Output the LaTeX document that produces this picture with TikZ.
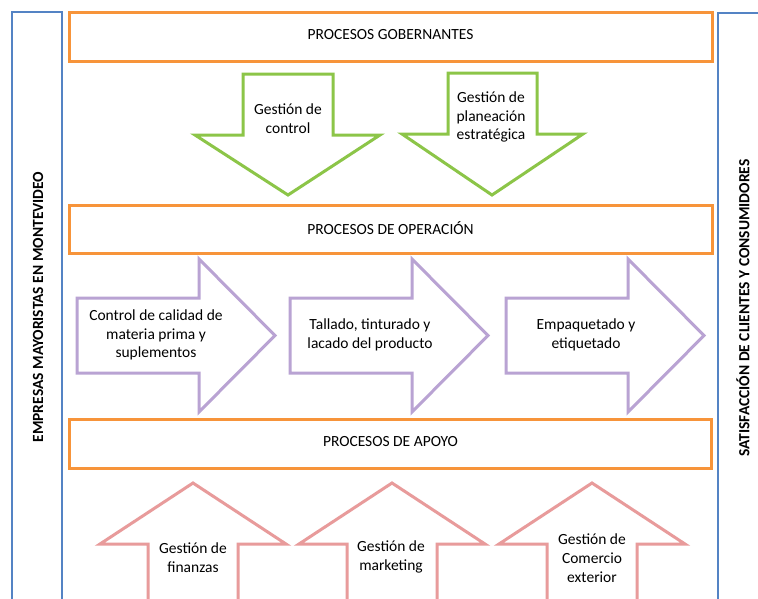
\documentclass[tikz,border=0pt]{standalone}
\usepackage{fontspec}
\setmainfont{Carlito}
\definecolor{boxorange}{HTML}{F7943A}
\definecolor{sideblue}{HTML}{5483C4}
\definecolor{arrgreen}{HTML}{8CC548}
\definecolor{arrpurple}{HTML}{B9A3D3}
\definecolor{arrred}{HTML}{E89B9B}
\tikzset{
  frame/.style={draw=boxorange, line width=3pt},
  side/.style={draw=sideblue, line width=2.8pt},
  garrow/.style={draw=arrgreen, line width=3pt, line join=miter},
  parrow/.style={draw=arrpurple, line width=3pt, line join=miter},
  rarrow/.style={draw=arrred, line width=3pt, line join=miter},
  lbl/.style={font=\fontsize{15.5}{18.7}\selectfont, align=center, inner sep=0pt},
  vlbl/.style={font=\fontsize{15.5}{18}\selectfont\bfseries, rotate=90, inner sep=0pt}
}
\begin{document}
\begin{tikzpicture}[x=1pt,y=-1pt]
\useasboundingbox (0,0) rectangle (758,598);
\clip (0,0) rectangle (758,598);
\fill[white] (0,0) rectangle (758,598);
% side panels
\draw[side] (12,12) rectangle (62,620);
\draw[side] (718,13) rectangle (780,620);
\node[vlbl] (left) at (38,307) {EMPRESAS MAYORISTAS EN MONTEVIDEO};
\node[vlbl] (right) at (743,308) {SATISFACCIÓN DE CLIENTES Y CONSUMIDORES};
% process boxes
\draw[frame] (69,12) rectangle (712,61);
\node[lbl] (gob) at (390.5,35) {PROCESOS GOBERNANTES};
\draw[frame] (69,205) rectangle (712,253);
\node[lbl] (op) at (390.5,228) {PROCESOS DE OPERACIÓN};
\draw[frame] (69,419) rectangle (711,468);
\node[lbl] (apo) at (390.5,442) {PROCESOS DE APOYO};
% green arrows
\draw[garrow] (243,74) -- (333,74) -- (333,135) -- (380,135) -- (288,195) -- (195,135) -- (243,135) -- cycle;
\node[lbl] (g1) at (288,119) {Gestión de\\control};
\draw[garrow] (448,73) -- (537,73) -- (537,134) -- (583,134) -- (492,195) -- (402,134) -- (448,134) -- cycle;
\node[lbl] (g2) at (491,117) {Gestión de\\planeación\\estratégica};
% purple arrows
\foreach \L in {77,290,506}{
  \draw[parrow] (\L,298) -- (\L+122,298) -- (\L+122,259) -- (\L+198,335.5) -- (\L+122,412) -- (\L+122,373) -- (\L,373) -- cycle;
}
\node[lbl] (t1) at (156,335) {Control de calidad de\\materia prima y\\suplementos};
\node[lbl] (t2) at (370,335) {Tallado, tinturado y\\lacado del producto};
\node[lbl] (t3) at (586,335) {Empaquetado y\\etiquetado};
% red arrows
\foreach \c in {193,392,592}{
  \draw[rarrow] (\c-45,620) -- (\c-45,544) -- (\c-93,544) -- (\c,483) -- (\c+93,544) -- (\c+45,544) -- (\c+45,620);
}
\node[lbl] (r1) at (193,558) {Gestión de\\finanzas};
\node[lbl] (r2) at (391,557) {Gestión de\\marketing};
\node[lbl] (r3) at (592,558) {Gestión de\\Comercio\\exterior};
\end{tikzpicture}
\end{document}
